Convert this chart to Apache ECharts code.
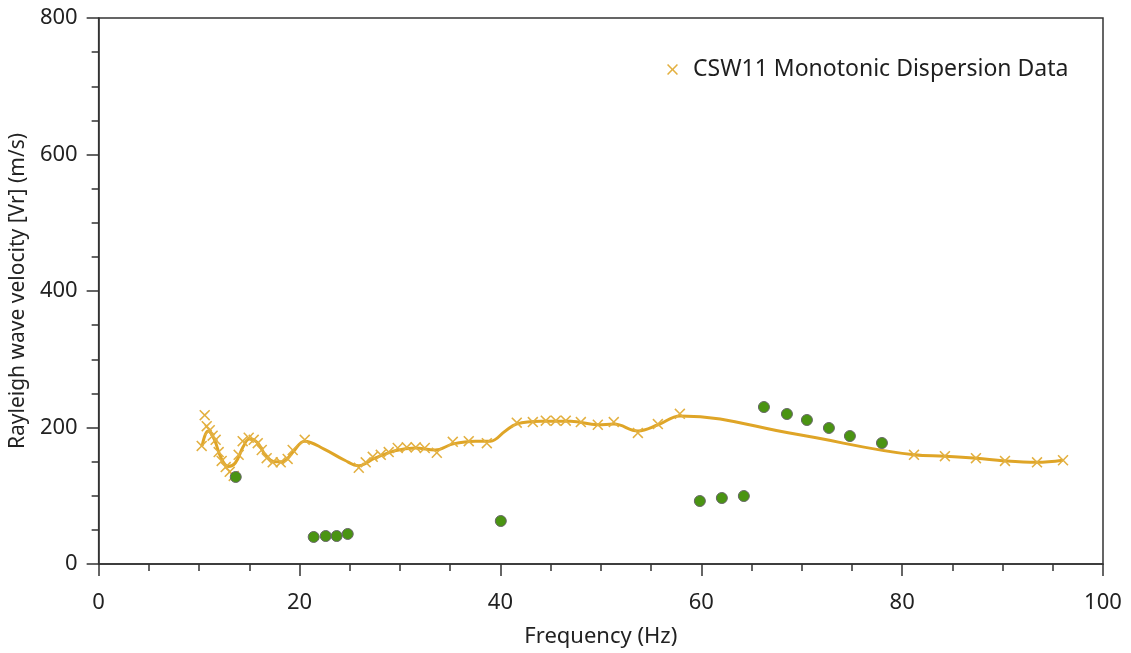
<!DOCTYPE html>
<html>
<head>
<meta charset="utf-8">
<script src="https://cdn.jsdelivr.net/npm/echarts@6/dist/echarts.min.js"></script>
<style>html,body{margin:0;padding:0;background:#fff}#c{width:1131px;height:653px}</style>
</head>
<body>
<div id="c"></div>
<script>
// Orange "x" markers: frequency (Hz) and velocity (m/s)
var dispFreq = [10.26,10.56,10.76,11.06,11.35,11.65,11.95,12.25,12.65,13.05,13.45,13.94,14.34,14.94,15.44,15.84,16.24,16.73,17.33,18.13,18.82,19.32,20.52,
  25.90,26.59,27.29,28.09,28.88,29.78,30.68,31.57,32.47,33.67,35.26,36.85,38.65,41.63,43.23,44.52,45.52,46.51,48.01,49.70,51.29,53.69,55.68,57.87,
  81.18,84.26,87.35,90.24,93.43,96.02];
var dispVel = [173,218,202,196,188,182,164,151,142,135,129,160,180,185,182,177,167,155,149,149,154,167,182,
  141,149,157,160,164,170,171,171,170,163,179,180,177,207,208,210,210,210,208,204,208,192,205,220,
  160,158,155,151,149,152];
// Smoothed orange curve
var fitFreq = [10.3,10.9,11.5,12.2,12.9,13.6,14.4,15.0,15.8,16.6,17.5,18.3,19.3,20.5,22.5,24.5,25.9,27.5,29.5,31.5,33.5,35.3,37.5,39.0,40.5,41.6,44.0,47.0,49.7,51.3,53.7,55.7,57.9,69.5,81.2,84.3,87.4,90.2,93.4,96.0];
var fitVel = [173,195,183,155,143,148,172,183,178,160,150,150,163,180,168,152,144,155,166,170,167,176,180,180,195,205,209,209,204,205,195,204,217,190,160,158,155,151,149,152];
// Green points
var greenFreq = [13.65,21.41,22.61,23.70,24.80,40.04,59.86,62.05,64.24,66.24,68.53,70.52,72.71,74.80,77.99];
var greenVel = [127.5,39.6,41.0,41.0,44.0,63.0,92.3,96.7,99.6,230,219.8,211,199.3,187.5,177.3];

var xTicks = [0,20,40,60,80,100];
var yTicks = [0,200,400,600,800];

function zip(a,b){return a.map(function(v,i){return [v,b[i]];});}
var xSym = 'path://M1,0 L5,4 L9,0 L10,1 L6,5 L10,9 L9,10 L5,6 L1,10 L0,9 L4,5 L0,1 Z';
var FONT = 'Noto Sans';
var chart = echarts.init(document.getElementById('c'));
chart.setOption({
  animation:false,
  textStyle:{fontFamily:FONT},
  grid:{left:98,right:28,top:18,bottom:89,show:true,borderColor:'#333',borderWidth:1.5,backgroundColor:'transparent'},
  legend:{
    left:662, top:53, itemWidth:11, itemHeight:11, itemGap:10,
    textStyle:{fontFamily:FONT,fontSize:23,color:'#1e1e1e',padding:[0,0,0,10]},
    data:[{name:'CSW11 Monotonic Dispersion Data', icon:xSym, itemStyle:{color:'#E3B040',opacity:1}}]
  },
  xAxis:{
    type:'value', min:xTicks[0], max:xTicks[xTicks.length-1], interval:20,
    name:'Frequency (Hz)', nameLocation:'middle', nameGap:62,
    nameTextStyle:{fontFamily:FONT,fontSize:22,color:'#222'},
    axisLine:{show:true,onZero:false,lineStyle:{color:'#333',width:1.5}},
    axisTick:{show:true,inside:false,length:12,lineStyle:{color:'#333',width:1.5}},
    minorTick:{show:true,splitNumber:4,length:7,lineStyle:{color:'#333',width:1.5}},
    axisLabel:{fontFamily:FONT,fontSize:22,color:'#222',margin:28},
    splitLine:{show:false}
  },
  yAxis:{
    type:'value', min:yTicks[0], max:yTicks[yTicks.length-1], interval:200,
    name:'Rayleigh wave velocity [Vr] (m/s)', nameLocation:'middle', nameGap:60,
    nameTextStyle:{fontFamily:FONT,fontSize:21,color:'#222'},
    axisLine:{show:true,onZero:false,lineStyle:{color:'#333',width:1.5}},
    axisTick:{show:true,inside:false,length:12,lineStyle:{color:'#333',width:1.5}},
    minorTick:{show:true,splitNumber:4,length:7,lineStyle:{color:'#333',width:1.5}},
    axisLabel:{fontFamily:FONT,fontSize:22,color:'#222',margin:21},
    splitLine:{show:false}
  },
  series:[
    {
      name:'fit', type:'line', data:zip(fitFreq,fitVel), smooth:0.4, showSymbol:false,
      lineStyle:{color:'#DFA527',width:3}, z:2, silent:true
    },
    {
      name:'CSW11 Monotonic Dispersion Data', type:'scatter', data:zip(dispFreq,dispVel),
      symbol:xSym, symbolSize:11, itemStyle:{color:'#E3B040',opacity:1}, z:3
    },
    {
      name:'green', type:'scatter', data:zip(greenFreq,greenVel),
      symbol:'circle', symbolSize:11, itemStyle:{color:'#4A9412',borderColor:'#666',borderWidth:1,opacity:1}, z:4
    }
  ]
});
</script>
</body>
</html>
